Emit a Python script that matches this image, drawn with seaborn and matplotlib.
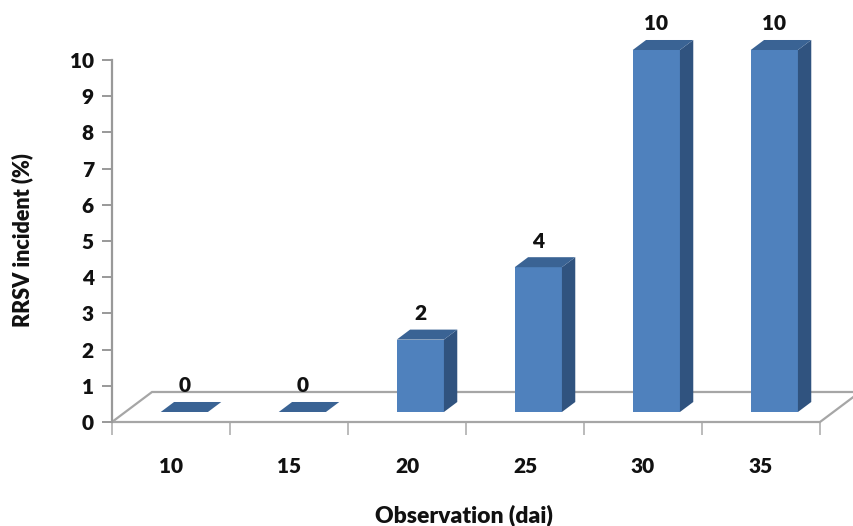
import matplotlib
matplotlib.use("Agg")
import matplotlib.pyplot as plt
from matplotlib.patches import Polygon
import seaborn as sns
import pandas as pd

# Observation days and incidence values
days = ["10", "15", "20", "25", "30", "35"]
incidence = [0, 0, 2, 4, 10, 10]
y_ticks = list(range(0, 11))

FRONT = "#4f81bd"
SIDE = "#30537f"
TOP = "#3a6394"
GRID_GRAY = "#a6a6a6"
TEXT = "#111111"
WEIGHT = "heavy"

sns.set_theme(style="white")
plt.rcParams["font.family"] = ["Lato", "DejaVu Sans"]
plt.rcParams["font.weight"] = WEIGHT

fig = plt.figure(figsize=(8.54, 5.26), dpi=100)
ax = fig.add_axes([112 / 854, 104 / 526, 708 / 854, 362 / 526])

df = pd.DataFrame({"day": days, "incidence": incidence})
sns.barplot(data=df, x="day", y="incidence", width=0.4, color=FRONT,
            saturation=1, ax=ax, zorder=3, linewidth=0)

ax.set_xlim(-0.5, 5.5)
ax.set_ylim(0, 10)

# depth of the floor (data units) and position of the bars inside it
floor_dx, floor_dy = 0.339, 0.829
bar_dx, bar_dy = floor_dx / 3, floor_dy / 3

# floor plane
n = len(days)
floor = Polygon([(-0.5, 0), (n - 0.5, 0), (n - 0.5 + floor_dx, floor_dy),
                 (-0.5 + floor_dx, floor_dy)], closed=True, facecolor="white",
                edgecolor=GRID_GRAY, linewidth=1.6, zorder=1, clip_on=False)
ax.add_patch(floor)

# give each bar a side and a top face
for patch in list(ax.containers[0]):
    patch.set_x(patch.get_x() + bar_dx)
    patch.set_y(patch.get_y() + bar_dy)
    patch.set_clip_on(False)
    x0 = patch.get_x()
    x1 = x0 + patch.get_width()
    y0 = patch.get_y()
    y1 = y0 + patch.get_height()
    side = Polygon([(x1, y0), (x1 + bar_dx, y0 + bar_dy),
                    (x1 + bar_dx, y1 + bar_dy), (x1, y1)], closed=True,
                   facecolor=SIDE, edgecolor="none", zorder=3, clip_on=False)
    top = Polygon([(x0, y1), (x1, y1), (x1 + bar_dx, y1 + bar_dy),
                   (x0 + bar_dx, y1 + bar_dy)], closed=True,
                  facecolor=TOP, edgecolor="none", zorder=3, clip_on=False)
    ax.add_patch(side)
    ax.add_patch(top)

labels = ax.bar_label(ax.containers[0], fmt="%d", padding=12, fontsize=15,
                      fontweight=WEIGHT, color=TEXT, zorder=5)
for t in labels:
    t.set_clip_on(False)
    t.set_annotation_clip(False)

# axes styling
for s in ["top", "right", "bottom"]:
    ax.spines[s].set_visible(False)
ax.spines["left"].set_color("#999999")
ax.spines["left"].set_linewidth(1.6)
ax.spines["left"].set_zorder(2)

ax.set_yticks(y_ticks)
ax.set_yticklabels([str(v) for v in y_ticks])
ax.tick_params(axis="y", direction="out", length=7, width=1.4,
               color="#999999", pad=6, labelsize=15, labelcolor=TEXT,
               left=True)

ax.set_xticks(range(n))
ax.set_xticklabels(days)
ax.tick_params(axis="x", which="major", length=0, pad=25, labelsize=15,
               labelcolor=TEXT)
ax.set_xticks([i - 0.5 for i in range(n + 1)], minor=True)
ax.tick_params(axis="x", which="minor", direction="out", length=9,
               width=1.4, color="#bbbbbb", bottom=True)

for lab in ax.get_xticklabels() + ax.get_yticklabels():
    lab.set_fontweight(WEIGHT)

ax.set_xlabel("Observation (dai)", fontsize=16.5, fontweight=WEIGHT,
              color=TEXT)
ax.xaxis.set_label_coords(0.497, -0.257)
ax.xaxis.label.set_va("center")
ax.set_ylabel("RRSV incident (%)", fontsize=15.5, fontweight=WEIGHT,
              color=TEXT)
ax.yaxis.set_label_coords(-0.127, 0.503)
ax.yaxis.label.set_va("center")

ax.set_facecolor("none")
ax.grid(False)

fig.savefig("out.png", dpi=100, facecolor="white")
